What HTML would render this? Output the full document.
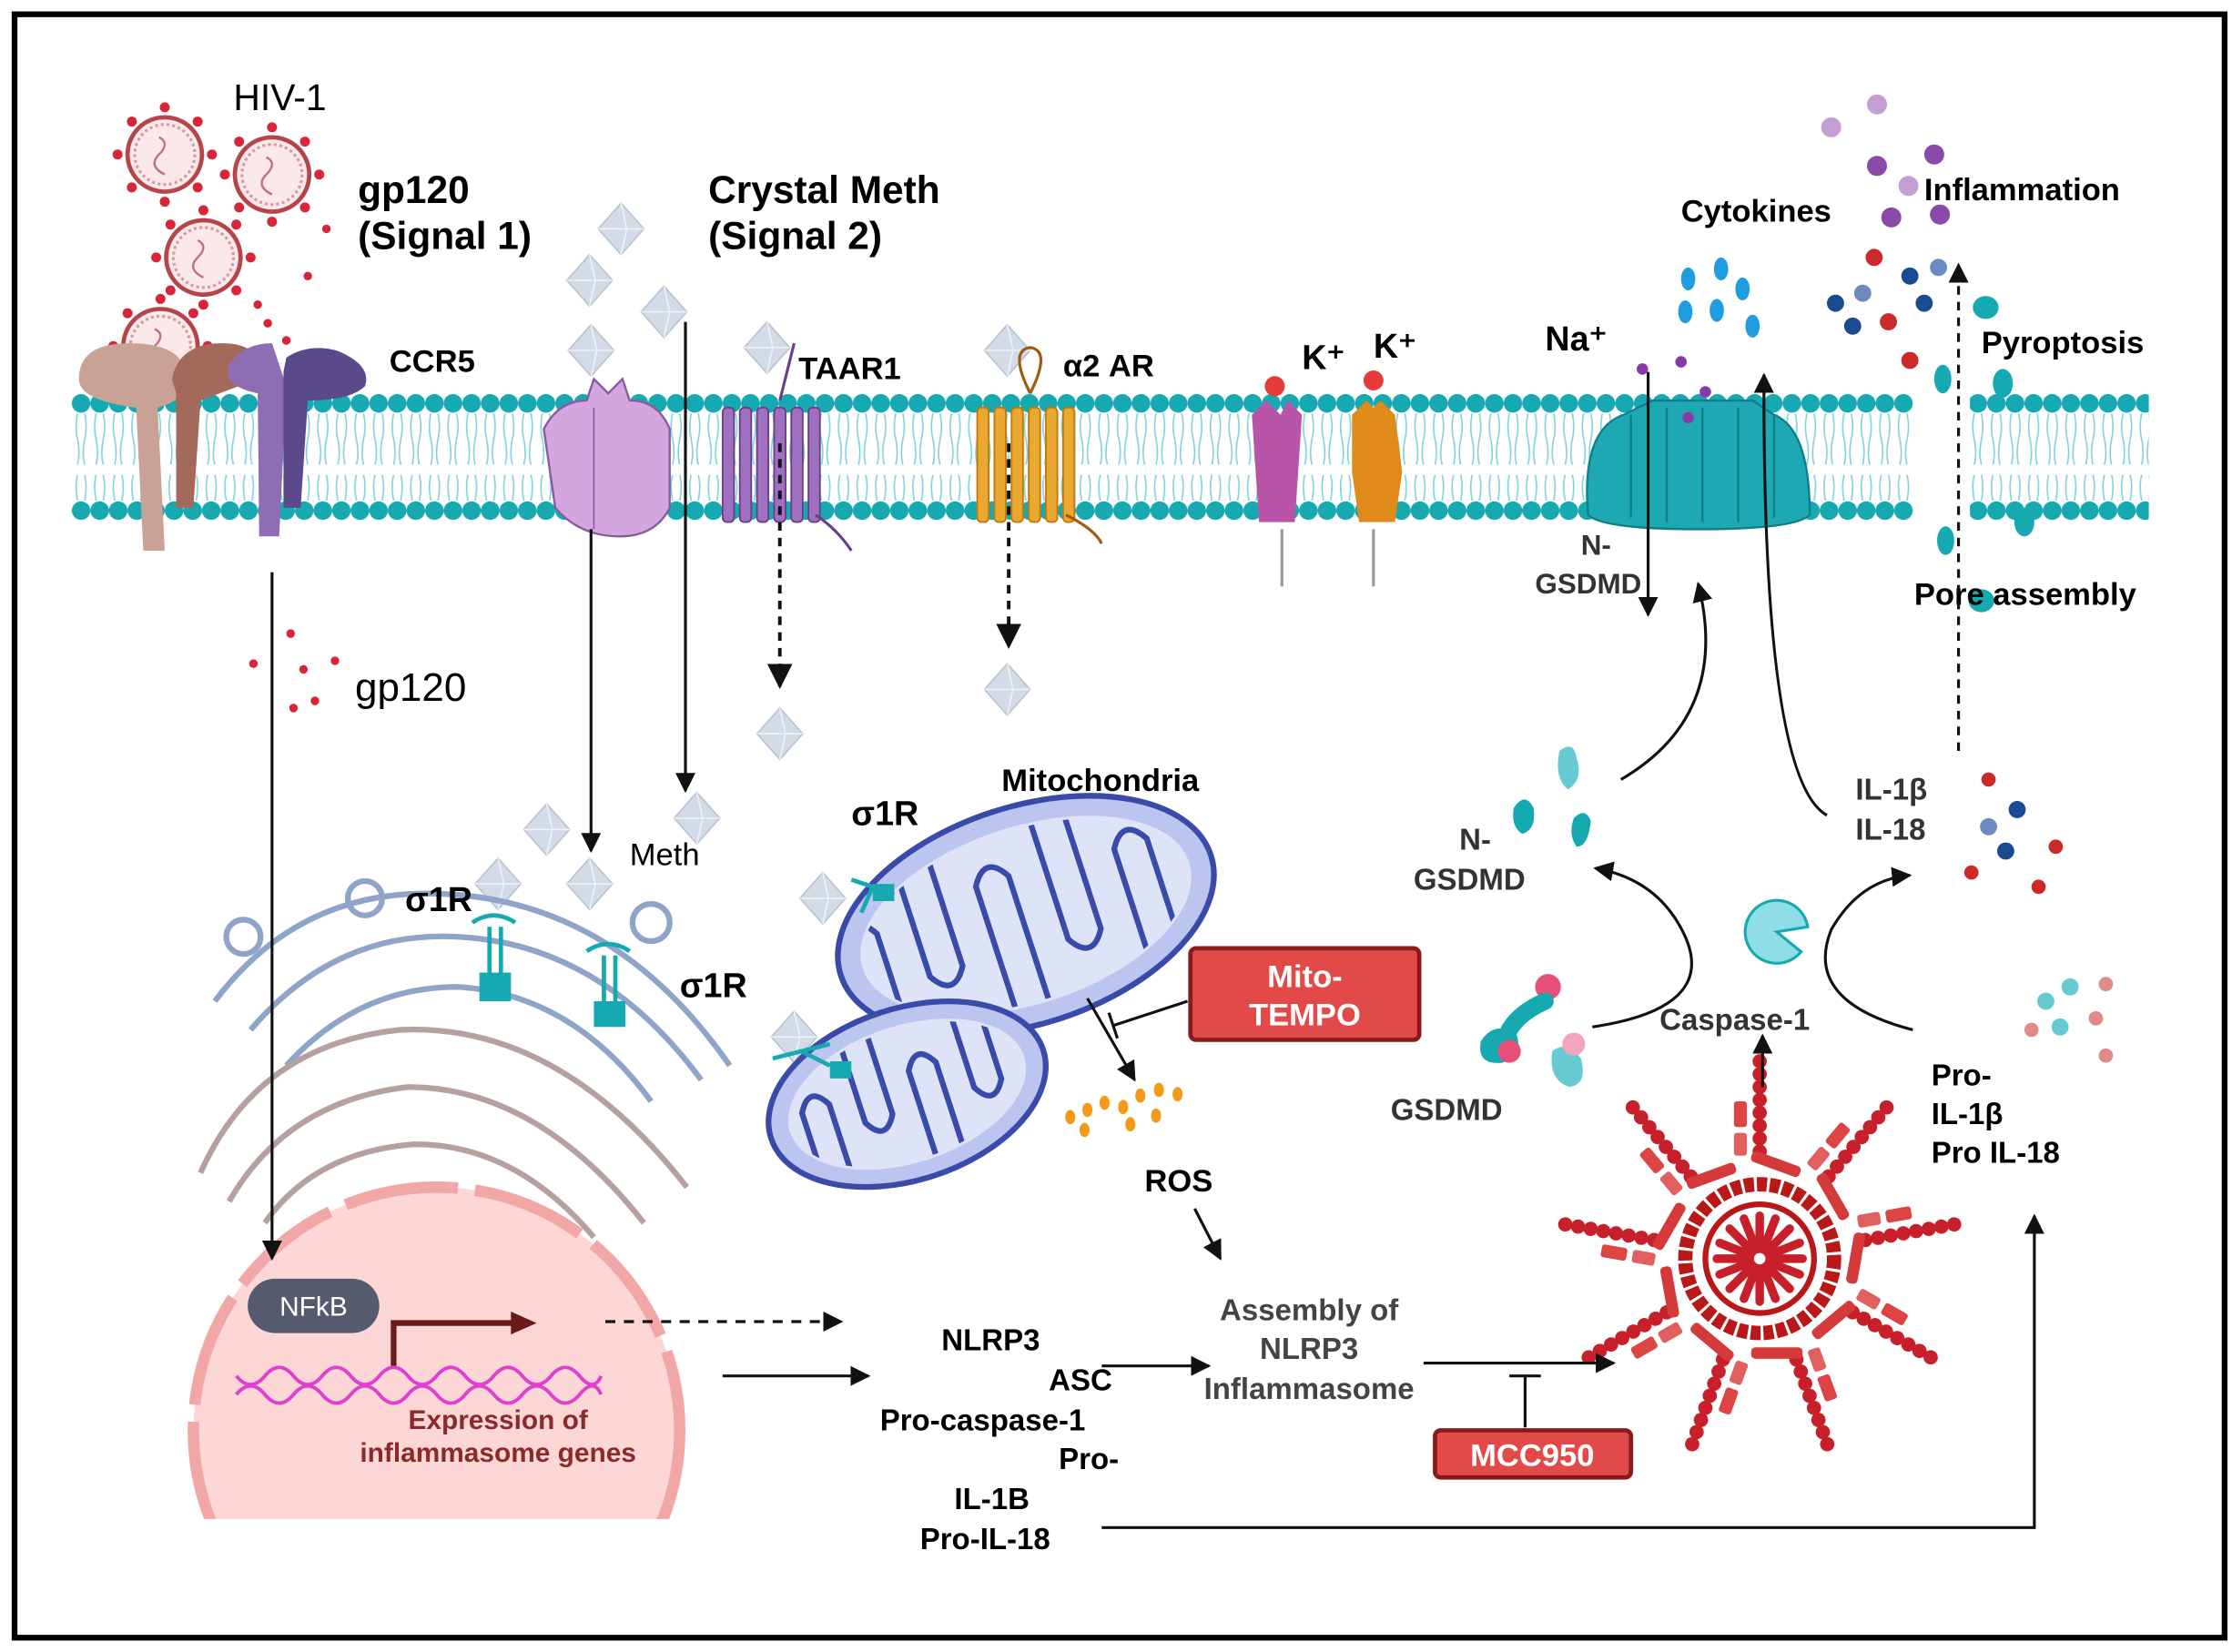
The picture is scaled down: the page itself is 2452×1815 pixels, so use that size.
<!DOCTYPE html>
<html><head><meta charset="utf-8"><style>
html,body{margin:0;padding:0;background:#fff}
svg{display:block}
text{font-family:"Liberation Sans",sans-serif}
.b{font-weight:bold}
</style></head><body>
<svg width="2452" height="1815" viewBox="0 0 1560 1155" xmlns="http://www.w3.org/2000/svg">
<defs>
<pattern id="beads" x="50" y="0" width="13" height="1155" patternUnits="userSpaceOnUse">
<circle cx="6.5" cy="282" r="6.5" fill="#17a9b1"/>
<circle cx="6.5" cy="357" r="6.5" fill="#17a9b1"/>
<path d="M4 289 q-2 10 0 18 q2 10 0 18 M9 289 q2 10 0 18 q-2 10 0 18 M4 350 q-2 -10 0 -18 M9 350 q2 -10 0 -18" stroke="#7fd3d8" stroke-width="1" fill="none"/>
</pattern>
<marker id="ah" viewBox="0 0 10 10" refX="9" refY="5" markerWidth="7" markerHeight="7" orient="auto"><path d="M0 0L10 5L0 10z" fill="#111"/></marker>
<g id="dia"><path d="M0 -18 L16 0 L0 18 L-16 0Z" fill="#d3dbe6" stroke="#b7c2d0"/><path d="M0 -18 L4 0 L0 18 M-16 0 L16 0" stroke="#eef2f7" fill="none"/></g>
<g id="vir"><circle r="26" fill="#fbe8e8" stroke="#b4464b" stroke-width="3"/><circle r="21" fill="none" stroke="#d59aa8" stroke-width="2" stroke-dasharray="2 2"/><path d="M-4 -12 q8 4 0 12 q-8 8 4 14" stroke="#c07080" fill="none" stroke-width="1.5"/>
<g fill="#d8253a"><circle cx="0" cy="-33" r="3.5"/><circle cx="0" cy="33" r="3.5"/><circle cx="-33" cy="0" r="3.5"/><circle cx="33" cy="0" r="3.5"/><circle cx="23" cy="-23" r="3.5"/><circle cx="-23" cy="23" r="3.5"/><circle cx="23" cy="23" r="3.5"/><circle cx="-23" cy="-23" r="3.5"/></g></g>
<g id="sp"><g fill="#c8202a"><circle cx="0" cy="-75" r="5"/><circle cx="0" cy="-84" r="5"/><circle cx="0" cy="-93" r="5"/><circle cx="0" cy="-102" r="5"/><circle cx="0" cy="-111" r="5"/><circle cx="0" cy="-120" r="5"/><circle cx="0" cy="-129" r="5"/><circle cx="0" cy="-138" r="5"/></g><rect x="-18" y="-110" width="9" height="18" rx="2" fill="#d44"/><rect x="-18" y="-88" width="9" height="16" rx="2" fill="#e06060"/><rect x="-30" y="-70" width="36" height="8" rx="3" fill="#d43a3a" transform="rotate(20)"/></g>
<clipPath id="m1"><ellipse cx="717" cy="640" rx="118" ry="60"/></clipPath>
<clipPath id="m2"><ellipse cx="634" cy="765" rx="84" ry="46"/></clipPath>
</defs>
<rect x="10" y="10" width="1545" height="1135" fill="#fff" stroke="#000" stroke-width="4"/>

<rect x="50" y="270" width="1452" height="95" fill="url(#beads)"/>

<use href="#vir" x="115" y="108"/><use href="#vir" x="190" y="122"/><use href="#vir" x="142" y="180"/><use href="#vir" x="112" y="242"/>
<g fill="#d8253a"><circle cx="228" cy="160" r="3"/><circle cx="215" cy="193" r="3"/><circle cx="180" cy="213" r="3"/><circle cx="187" cy="226" r="3"/><circle cx="200" cy="238" r="3"/><circle cx="203" cy="443" r="3"/><circle cx="177" cy="464" r="3"/><circle cx="212" cy="468" r="3"/><circle cx="234" cy="462" r="3"/><circle cx="205" cy="495" r="3"/><circle cx="220" cy="490" r="3"/></g>
<text x="163" y="77" font-size="26">HIV-1</text>
<text x="250" y="142" font-size="27" class="b">gp120</text><text x="250" y="174" font-size="27" class="b">(Signal 1)</text>
<text x="495" y="142" font-size="27" class="b">Crystal Meth</text><text x="495" y="174" font-size="27" class="b">(Signal 2)</text>

<path d="M55 265 q0 -25 35 -25 q40 0 40 25 q0 15 -20 20 l5 100 h-15 l-5 -100 q-40 -5 -40 -20z" fill="#c9a295"/>
<path d="M120 265 q5 -25 35 -25 q30 0 25 25 l-40 15 l-5 75 h-12 l0 -80z" fill="#a36a5b"/>
<path d="M160 255 q10 -15 30 -15 l10 30 l-5 105 h-14 l-1 -100 q-25 -5 -20 -20z" fill="#8e6db4"/>
<path d="M200 250 q15 -10 35 -5 q25 10 20 25 q-10 10 -40 10 l-5 75 h-12 l0 -95z" fill="#5b4a8b"/>
<text x="272" y="260" font-size="22" class="b">CCR5</text>

<use href="#dia" x="434" y="160"/><use href="#dia" x="412" y="196"/><use href="#dia" x="464" y="218"/><use href="#dia" x="413" y="245"/><use href="#dia" x="536" y="243"/><use href="#dia" x="704" y="245"/>
<use href="#dia" x="545" y="513"/><use href="#dia" x="704" y="482"/><use href="#dia" x="487" y="572"/><use href="#dia" x="382" y="580"/><use href="#dia" x="348" y="618"/><use href="#dia" x="412" y="618"/><use href="#dia" x="575" y="628"/><use href="#dia" x="555" y="725"/>

<path d="M380 300 q10 -20 30 -20 l5 -15 l10 10 l10 -10 l5 15 q20 0 28 20 l0 55 q-10 20 -35 20 q-28 0 -45 -20z" fill="#d4a6e0" stroke="#8a5a9e" stroke-width="1.5"/>
<line x1="415" y1="285" x2="415" y2="370" stroke="#8a5a9e"/>
<g stroke="#6b3f8a" stroke-width="1.2" fill="#a070c0">
<rect x="505" y="285" width="8" height="80" rx="3"/><rect x="517" y="285" width="8" height="80" rx="3"/><rect x="529" y="285" width="8" height="80" rx="3"/><rect x="541" y="285" width="8" height="80" rx="3"/><rect x="553" y="285" width="8" height="80" rx="3"/><rect x="565" y="285" width="8" height="80" rx="3"/></g>
<path d="M570 360 q15 10 25 25 M545 280 q5 -20 10 -40" stroke="#6b3f8a" fill="none" stroke-width="2"/>
<text x="558" y="265" font-size="22" class="b">TAAR1</text>
<g stroke="#c07a10" stroke-width="1.2" fill="#eaa830">
<rect x="683" y="285" width="8" height="80" rx="3"/><rect x="695" y="285" width="8" height="80" rx="3"/><rect x="707" y="285" width="8" height="80" rx="3"/><rect x="719" y="285" width="8" height="80" rx="3"/><rect x="731" y="285" width="8" height="80" rx="3"/><rect x="743" y="285" width="8" height="80" rx="3"/></g>
<path d="M720 275 q-15 -30 0 -32 q15 2 0 32 M745 360 q20 10 25 20" stroke="#a05a10" fill="none" stroke-width="2"/>
<text x="743" y="263" font-size="22" class="b">α2 AR</text>
<path d="M875 290 l10 -10 l10 10 l5 -10 l10 10 l-5 75 h-25z" fill="#b855a8"/><circle cx="891" cy="270" r="7" fill="#e53b3b"/><line x1="896" y1="370" x2="896" y2="410" stroke="#999" stroke-width="2"/>
<path d="M945 290 l10 -10 l5 5 l5 -5 l10 10 l5 40 l-5 35 h-25 l-5 -35z" fill="#e08a1a"/><circle cx="960" cy="266" r="7" fill="#e53b3b"/><line x1="960" y1="370" x2="960" y2="410" stroke="#999" stroke-width="2"/>
<text x="910" y="258" font-size="24" class="b">K⁺</text><text x="960" y="250" font-size="24" class="b">K⁺</text>
<path d="M1110 360 q-5 -60 25 -70 l20 -10 h70 l15 10 q25 10 25 70 q-10 10 -77 10 q-68 0 -78 -10z" fill="#1ea8b3" stroke="#0e7f88" stroke-width="1.5"/>
<g stroke="#0e7f88" stroke-width="1.5"><line x1="1140" y1="290" x2="1140" y2="362"/><line x1="1165" y1="285" x2="1165" y2="365"/><line x1="1190" y1="285" x2="1190" y2="365"/><line x1="1215" y1="285" x2="1215" y2="365"/><line x1="1240" y1="290" x2="1240" y2="362"/></g>
<text x="1080" y="245" font-size="24" class="b">Na⁺</text>
<g fill="#8a3aa8"><circle cx="1148" cy="258" r="4"/><circle cx="1175" cy="253" r="4"/><circle cx="1192" cy="274" r="4"/><circle cx="1180" cy="292" r="4"/></g>
<text x="1105" y="388" font-size="20" class="b" fill="#333">N-</text><text x="1073" y="415" font-size="20" class="b" fill="#333">GSDMD</text>
<rect x="1337" y="262" width="40" height="120" fill="#fff"/>
<g fill="#17a9b1"><ellipse cx="1358" cy="265" rx="6" ry="10"/><ellipse cx="1360" cy="378" rx="6" ry="10"/><ellipse cx="1388" cy="215" rx="9" ry="8"/><ellipse cx="1385" cy="420" rx="9" ry="8"/><ellipse cx="1400" cy="268" rx="7" ry="10"/><ellipse cx="1415" cy="365" rx="7" ry="10"/></g>
<g fill="#1e9de0"><ellipse cx="1180" cy="195" rx="5" ry="8"/><ellipse cx="1203" cy="188" rx="5" ry="8"/><ellipse cx="1218" cy="202" rx="5" ry="8"/><ellipse cx="1178" cy="218" rx="5" ry="8"/><ellipse cx="1200" cy="217" rx="5" ry="8"/><ellipse cx="1225" cy="228" rx="5" ry="8"/></g>
<text x="1175" y="155" font-size="22" class="b">Cytokines</text>
<g><circle cx="1312" cy="73" r="7" fill="#c3a0d4"/><circle cx="1280" cy="89" r="7" fill="#c3a0d4"/><circle cx="1352" cy="108" r="7" fill="#8a4aa8"/><circle cx="1312" cy="116" r="7" fill="#8a4aa8"/><circle cx="1334" cy="130" r="7" fill="#c3a0d4"/><circle cx="1322" cy="152" r="7" fill="#8a4aa8"/><circle cx="1356" cy="150" r="7" fill="#8a4aa8"/><circle cx="1310" cy="180" r="6" fill="#cc2a2a"/><circle cx="1335" cy="193" r="6" fill="#1a4a90"/><circle cx="1355" cy="187" r="6" fill="#6a8ac0"/><circle cx="1283" cy="212" r="6" fill="#1a4a90"/><circle cx="1302" cy="205" r="6" fill="#6a8ac0"/><circle cx="1320" cy="225" r="6" fill="#cc2a2a"/><circle cx="1345" cy="212" r="6" fill="#1a4a90"/><circle cx="1295" cy="228" r="6" fill="#1a4a90"/><circle cx="1335" cy="252" r="6" fill="#cc2a2a"/></g>
<text x="1345" y="140" font-size="22" class="b">Inflammation</text>
<text x="1385" y="247" font-size="22" class="b">Pyroptosis</text>
<text x="1338" y="423" font-size="22" class="b">Pore assembly</text>

<g fill="none" stroke="#8ea4c8" stroke-width="4">
<path d="M150 700 q60 -80 160 -75 q120 5 200 120"/><path d="M175 720 q60 -70 145 -65 q100 5 170 100"/><path d="M200 745 q50 -55 120 -55 q80 5 135 80"/>
<circle cx="170" cy="655" r="12"/><circle cx="255" cy="628" r="12"/><circle cx="455" cy="645" r="13"/>
</g>
<g fill="none" stroke="#b7a0a0" stroke-width="4">
<path d="M140 820 q40 -90 140 -100 q110 -5 200 110"/><path d="M160 840 q40 -70 125 -80 q90 0 165 95"/><path d="M185 855 q35 -50 105 -55 q70 0 125 65"/>
</g>
<clipPath id="nc"><rect x="0" y="0" width="1560" height="1062"/></clipPath>
<circle cx="305" cy="1000" r="170" fill="#fdd6d6" stroke="#f2a7a7" stroke-width="8" stroke-dasharray="80 12" clip-path="url(#nc)"/>
<rect x="173" y="894" width="92" height="38" rx="19" fill="#555a6e"/><text x="219" y="920" font-size="19" fill="#fff" text-anchor="middle">NFkB</text>
<path d="M275 955 v-30 h85" stroke="#6a1a1a" stroke-width="4" fill="none"/><path d="M357 917 l18 8 l-18 8z" fill="#6a1a1a"/>
<path d="M165 962 q10 12 20 0 t20 0 t20 0 t20 0 t20 0 t20 0 t20 0 t20 0 t20 0 t20 0 t20 0 t20 0 t15 0 M165 975 q10 -12 20 0 t20 0 t20 0 t20 0 t20 0 t20 0 t20 0 t20 0 t20 0 t20 0 t20 0 t20 0 t15 0" stroke="#e040d0" stroke-width="2.5" fill="none"/>
<text x="348" y="999" font-size="19" class="b" fill="#8a2a2a" text-anchor="middle">Expression of</text>
<text x="348" y="1022" font-size="19" class="b" fill="#8a2a2a" text-anchor="middle">inflammasome genes</text>

<g fill="#17a9b1"><rect x="335" y="680" width="22" height="20"/><rect x="415" y="700" width="22" height="18"/></g>
<g stroke="#17a9b1" stroke-width="3" fill="none"><path d="M330 645 q15 -10 30 0 M342 648 v35 M350 648 v35"/><path d="M410 665 q15 -10 30 0 M422 668 v35 M430 668 v35"/></g>
<text x="283" y="637" font-size="24" class="b">σ1R</text><text x="475" y="697" font-size="24" class="b">σ1R</text><text x="595" y="577" font-size="24" class="b">σ1R</text>
<text x="440" y="605" font-size="22">Meth</text>
<text x="248" y="490" font-size="28">gp120</text>

<g transform="rotate(-18 717 640)"><ellipse cx="717" cy="640" rx="136" ry="76" fill="#bcc5ef" stroke="#3a4aa8" stroke-width="4"/><ellipse cx="717" cy="640" rx="120" ry="62" fill="#dfe3f8"/>
<path clip-path="url(#m1)" d="M590 700 V620 q12 -20 24 0 V700 M640 580 V660 q12 20 24 0 V580 M690 700 V610 q12 -20 24 0 V700 M740 580 V665 q12 20 24 0 V580 M790 700 V615 q12 -20 24 0 V700" stroke="#3a4aa8" stroke-width="4" fill="none"/></g>
<g transform="rotate(-18 634 765)"><ellipse cx="634" cy="765" rx="100" ry="60" fill="#bcc5ef" stroke="#3a4aa8" stroke-width="4"/><ellipse cx="634" cy="765" rx="86" ry="48" fill="#dfe3f8"/>
<path clip-path="url(#m2)" d="M560 820 V755 q10 -18 20 0 V820 M600 710 V775 q10 18 20 0 V710 M640 820 V750 q10 -18 20 0 V820 M680 710 V775 q10 18 20 0 V710" stroke="#3a4aa8" stroke-width="4" fill="none"/></g>
<g fill="#17a9b1"><rect x="610" y="618" width="15" height="12"/><rect x="580" y="742" width="15" height="12"/></g>
<g stroke="#17a9b1" stroke-width="3" fill="none"><path d="M595 615 l30 10 M610 620 l-8 18"/><path d="M540 740 l40 -10 M560 735 l20 10"/></g>
<text x="700" y="553" font-size="22" class="b">Mitochondria</text>
<g fill="#f39a18"><ellipse cx="748" cy="781" rx="3.5" ry="5"/><ellipse cx="760" cy="776" rx="3.5" ry="5"/><ellipse cx="772" cy="771" rx="3.5" ry="5"/><ellipse cx="785" cy="774" rx="3.5" ry="5"/><ellipse cx="797" cy="766" rx="3.5" ry="5"/><ellipse cx="810" cy="762" rx="3.5" ry="5"/><ellipse cx="823" cy="765" rx="3.5" ry="5"/><ellipse cx="758" cy="790" rx="3.5" ry="5"/><ellipse cx="790" cy="786" rx="3.5" ry="5"/><ellipse cx="808" cy="780" rx="3.5" ry="5"/></g>
<text x="800" y="833" font-size="22" class="b">ROS</text>
<rect x="832" y="663" width="160" height="64" rx="4" fill="#e24a4a" stroke="#8a1a1a" stroke-width="3"/>
<text x="912" y="690" font-size="22" class="b" fill="#fff" text-anchor="middle">Mito-</text><text x="912" y="717" font-size="22" class="b" fill="#fff" text-anchor="middle">TEMPO</text>
<rect x="1003" y="1000" width="137" height="33" rx="4" fill="#e24a4a" stroke="#8a1a1a" stroke-width="3"/>
<text x="1071" y="1025" font-size="22" class="b" fill="#fff" text-anchor="middle">MCC950</text>

<g font-size="21" class="b" fill="#444" text-anchor="middle"><text x="915" y="923">Assembly of</text><text x="915" y="950">NLRP3</text><text x="915" y="978">Inflammasome</text></g>
<g font-size="21" class="b"><text x="658" y="944">NLRP3</text><text x="733" y="972">ASC</text><text x="615" y="1000">Pro-caspase-1</text><text x="740" y="1027">Pro-</text><text x="667" y="1055">IL-1B</text><text x="643" y="1083">Pro-IL-18</text></g>
<g font-size="21" class="b" fill="#333"><text x="1020" y="594">N-</text><text x="988" y="622">GSDMD</text><text x="972" y="783">GSDMD</text><text x="1160" y="720">Caspase-1</text><text x="1297" y="559">IL-1β</text><text x="1297" y="587">IL-18</text></g>
<g font-size="21" class="b"><text x="1350" y="759">Pro-</text><text x="1350" y="786">IL-1β</text><text x="1350" y="813">Pro IL-18</text></g>

<g fill="#17a9b1"><path d="M1058 565 q8 -12 14 0 q2 15 -8 18 q-8 -5 -6 -18z"/><path d="M1100 572 q8 -8 12 2 q-2 18 -10 18 q-6 -8 -2 -20z"/><path d="M1035 728 q10 -15 25 -5 q5 15 -10 20 q-18 2 -15 -15z"/></g>
<g fill="#66cad2"><path d="M1090 525 q10 -8 12 5 q5 15 -6 22 q-10 -8 -6 -27z"/><path d="M1085 735 q10 -8 20 5 q5 18 -8 20 q-15 -5 -12 -25z"/></g>
<g fill="#e8507a"><circle cx="1082" cy="690" r="9"/><circle cx="1055" cy="735" r="8"/></g><circle cx="1100" cy="730" r="8" fill="#f5a5bd"/>
<path d="M1080 700 q-18 8 -25 20" stroke="#17a9b1" stroke-width="12" fill="none" stroke-linecap="round"/>
<path d="M1262 660 A22 22 0 1 1 1262 642 L1242 651 Z" fill="#8fdde5" stroke="#17a9b1" stroke-width="2" transform="rotate(15 1240 651)"/>
<g><circle cx="1390" cy="545" r="5" fill="#cc2a2a"/><circle cx="1410" cy="566" r="6" fill="#1a4a90"/><circle cx="1390" cy="578" r="6" fill="#6a8ac0"/><circle cx="1402" cy="595" r="6" fill="#1a4a90"/><circle cx="1378" cy="610" r="5" fill="#cc2a2a"/><circle cx="1437" cy="592" r="5" fill="#cc2a2a"/><circle cx="1425" cy="620" r="5" fill="#cc2a2a"/>
<circle cx="1472" cy="688" r="5" fill="#e08a8a"/><circle cx="1447" cy="690" r="6" fill="#66cad2"/><circle cx="1430" cy="700" r="6" fill="#66cad2"/><circle cx="1440" cy="718" r="6" fill="#66cad2"/><circle cx="1420" cy="720" r="5" fill="#e08a8a"/><circle cx="1465" cy="712" r="5" fill="#e08a8a"/><circle cx="1472" cy="738" r="5" fill="#e08a8a"/></g>

<g transform="translate(1230 880)">
<use href="#sp"/><use href="#sp" transform="rotate(40)"/><use href="#sp" transform="rotate(80)"/><use href="#sp" transform="rotate(120)"/><use href="#sp" transform="rotate(160)"/><use href="#sp" transform="rotate(200)"/><use href="#sp" transform="rotate(240)"/><use href="#sp" transform="rotate(280)"/><use href="#sp" transform="rotate(320)"/>
<circle r="52" fill="none" stroke="#b81818" stroke-width="10" stroke-dasharray="7 2"/>
<circle r="38" fill="none" stroke="#b81818" stroke-width="4"/>
<g stroke="#c8202a" stroke-width="6" stroke-linecap="round"><line x1="-30" y1="0" x2="30" y2="0"/><line x1="0" y1="-30" x2="0" y2="30"/><line x1="-21" y1="-21" x2="21" y2="21"/><line x1="21" y1="-21" x2="-21" y2="21"/><line x1="-28" y1="-11" x2="28" y2="11"/><line x1="-28" y1="11" x2="28" y2="-11"/><line x1="-11" y1="-28" x2="11" y2="28"/><line x1="11" y1="-28" x2="-11" y2="28"/></g>
<circle r="4" fill="#fff"/></g>

<g stroke="#111" stroke-width="2" fill="none">
<line x1="190" y1="400" x2="190" y2="880" marker-end="url(#ah)"/>
<line x1="413" y1="370" x2="413" y2="595" marker-end="url(#ah)"/>
<line x1="479" y1="225" x2="479" y2="553" marker-end="url(#ah)"/>
<line x1="545" y1="310" x2="545" y2="480" stroke-dasharray="6 5" stroke-width="2.5" marker-end="url(#ah)"/>
<line x1="705" y1="310" x2="705" y2="452" stroke-dasharray="6 5" stroke-width="2.5" marker-end="url(#ah)"/>
<line x1="423" y1="924" x2="588" y2="924" stroke-dasharray="7 6" marker-end="url(#ah)"/>
<line x1="505" y1="962" x2="607" y2="962" marker-end="url(#ah)"/>
<line x1="770" y1="955" x2="845" y2="955" marker-end="url(#ah)"/>
<line x1="995" y1="953" x2="1128" y2="953" marker-end="url(#ah)"/>
<path d="M1066 998 v-35 M1055 962 h22"/>
<line x1="760" y1="698" x2="793" y2="755" marker-end="url(#ah)"/>
<path d="M830 700 l-52 17 M775 708 l6 18"/>
<line x1="835" y1="845" x2="853" y2="880" marker-end="url(#ah)"/>
<path d="M770 1068 H1422 V850" marker-end="url(#ah)"/>
<line x1="1232" y1="760" x2="1232" y2="724" marker-end="url(#ah)"/>
<path d="M1113 718 Q1200 705 1178 655 Q1160 615 1115 607" marker-end="url(#ah)"/>
<path d="M1337 720 Q1260 700 1280 650 Q1300 615 1335 612" marker-end="url(#ah)"/>
<path d="M1133 545 Q1210 500 1187 408" marker-end="url(#ah)"/>
<path d="M1277 570 Q1232 545 1233 262" marker-end="url(#ah)"/>
<line x1="1152" y1="260" x2="1152" y2="430" marker-end="url(#ah)"/>
<line x1="1369" y1="525" x2="1369" y2="185" stroke-dasharray="6 5" marker-end="url(#ah)"/>
</g>
</svg>
</body></html>
